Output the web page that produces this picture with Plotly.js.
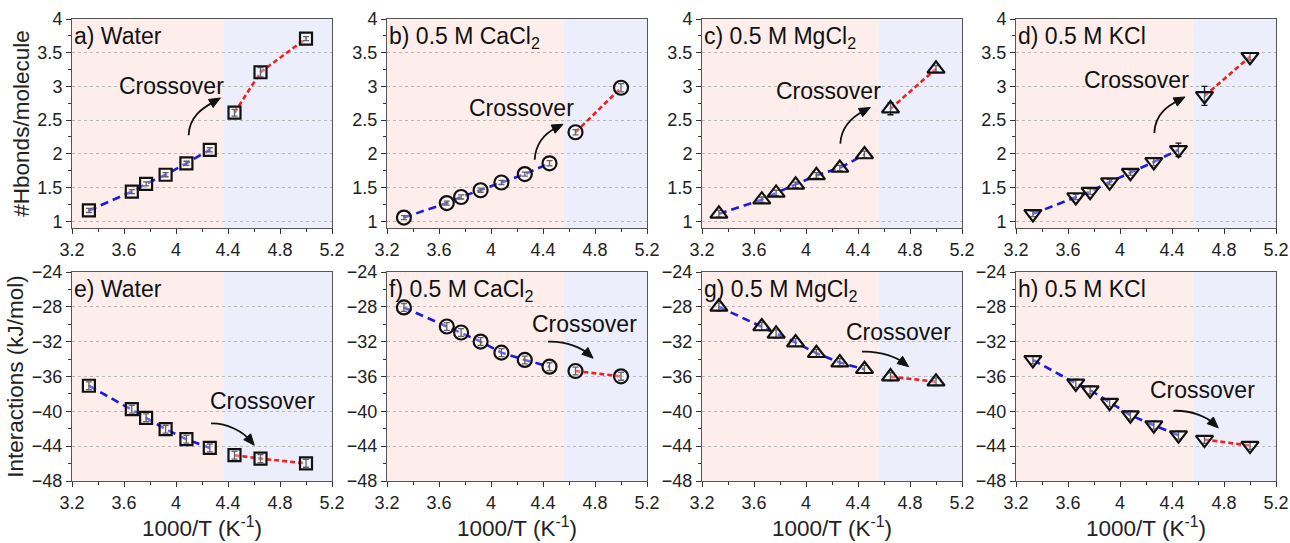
<!DOCTYPE html>
<html><head><meta charset="utf-8">
<script src="https://cdn.plot.ly/plotly-3.0.1.min.js"></script>
<style>html,body{margin:0;padding:0;background:#fff}#chart{width:1290px;height:543px}</style>
</head><body><div id="chart"></div>
<script>
// ---------- data ----------
const invT = [3.33, 3.66, 3.77, 3.92, 4.08, 4.26, 4.45, 4.65, 5.00];

const hbWater    = [1.16, 1.44, 1.555, 1.69, 1.86, 2.06, 2.61, 3.21, 3.71];
const hbWaterErr = [0.03, 0.03, 0.03, 0.03, 0.03, 0.03, 0.05, 0.07, 0.03];
const hbCaCl2    = [1.055, 1.27, 1.36, 1.46, 1.575, 1.70, 1.86, 2.32, 2.98];
const hbCaCl2Err = [0.03, 0.03, 0.03, 0.03, 0.03, 0.03, 0.04, 0.04, 0.06];
const hbMgCl2    = [1.11, 1.32, 1.42, 1.54, 1.68, 1.79, 1.99, 2.67, 3.26];
const hbMgCl2Err = [0.05, 0.04, 0.04, 0.04, 0.04, 0.04, 0.05, 0.09, 0.05];
const hbKCl      = [1.11, 1.36, 1.44, 1.58, 1.72, 1.88, 2.06, 2.86, 3.44];
const hbKClErr   = [0.04, 0.04, 0.04, 0.04, 0.04, 0.06, 0.10, 0.14, 0.05];

const intWater    = [-37.06, -39.75, -40.74, -42.05, -43.2, -44.2, -45.04, -45.43, -45.97];
const intWaterErr = [0.45, 0.45, 0.45, 0.45, 0.45, 0.45, 0.45, 0.45, 0.45];
const intCaCl2    = [-28.07, -30.26, -30.95, -31.99, -33.26, -34.1, -34.87, -35.37, -35.98];
const intCaCl2Err = [0.45, 0.45, 0.45, 0.45, 0.45, 0.45, 0.45, 0.45, 0.45];
const intMgCl2    = [-28.0, -30.26, -31.1, -32.1, -33.33, -34.4, -35.17, -36.02, -36.6];
const intMgCl2Err = [0.45, 0.45, 0.45, 0.45, 0.45, 0.45, 0.45, 0.45, 0.45];
const intKCl      = [-34.1, -36.79, -37.56, -39.0, -40.44, -41.59, -42.74, -43.24, -43.93];
const intKClErr   = [0.45, 0.45, 0.45, 0.45, 0.45, 0.45, 0.45, 0.45, 0.45];

const panelLabels = ['a) Water', 'b) 0.5 M CaCl<sub>2</sub>', 'c) 0.5 M MgCl<sub>2</sub>', 'd) 0.5 M KCl',
                     'e) Water', 'f) 0.5 M CaCl<sub>2</sub>', 'g) 0.5 M MgCl<sub>2</sub>', 'h) 0.5 M KCl'];
const crossoverText = 'Crossover';
const xTitle = '1000/T (K<sup>-1</sup>)';
const yTitleTop = '#Hbonds/molecule';
const yTitleBottom = 'Interactions (kJ/mol)';

// ---------- layout config ----------
const series = [
  {y: hbWater,  e: hbWaterErr,  sym: 'square',        split: 6, bound: 4.37},
  {y: hbCaCl2,  e: hbCaCl2Err,  sym: 'circle',        split: 7, bound: 4.56},
  {y: hbMgCl2,  e: hbMgCl2Err,  sym: 'triangle-up',   split: 7, bound: 4.56},
  {y: hbKCl,    e: hbKClErr,    sym: 'triangle-down', split: 7, bound: 4.56},
  {y: intWater, e: intWaterErr, sym: 'square',        split: 6, bound: 4.37},
  {y: intCaCl2, e: intCaCl2Err, sym: 'circle',        split: 7, bound: 4.56},
  {y: intMgCl2, e: intMgCl2Err, sym: 'triangle-up',   split: 7, bound: 4.56},
  {y: intKCl,   e: intKClErr,   sym: 'triangle-down', split: 7, bound: 4.56}
];
// crossover annotation geometry (text centre, curve start, control 1, control 2, arrow tip)
const arrows = [
  {t:[3.964, 3.003], s:[4.097, 2.275], c1:[4.102, 2.572], c2:[4.218, 2.691], e:[4.341, 2.829]},
  {t:[4.234, 2.687], s:[4.336, 1.913], c1:[4.344, 2.200], c2:[4.444, 2.334], e:[4.554, 2.438]},
  {t:[4.174, 2.934], s:[4.264, 2.151], c1:[4.272, 2.438], c2:[4.379, 2.572], e:[4.495, 2.687]},
  {t:[4.128, 3.093], s:[4.264, 2.309], c1:[4.269, 2.602], c2:[4.377, 2.721], e:[4.500, 2.844]},
  {t:[4.662, -38.79], s:[4.269, -41.39], c1:[4.402, -41.36], c2:[4.518, -42.39], e:[4.602, -43.89]},
  {t:[4.721, -29.95], s:[4.438, -31.99], c1:[4.590, -31.91], c2:[4.705, -32.83], e:[4.785, -33.90]},
  {t:[4.712, -30.84], s:[4.431, -33.14], c1:[4.587, -33.06], c2:[4.702, -33.87], e:[4.789, -34.87]},
  {t:[4.636, -37.56], s:[4.410, -39.94], c1:[4.562, -39.86], c2:[4.677, -40.78], e:[4.756, -41.90]}
];

const W = 1290, H = 543;
const colPx = [[72, 332], [387, 647], [702, 962], [1016, 1276]];
const rowPx = [[19, 228], [272, 481]];
const xRange = [3.2, 5.2];
const yRanges = [[0.9, 4], [-48, -24]];
const FONT = 'Liberation Sans, Arial, sans-serif';
const markerSize = {'square': 12, 'circle': 14, 'triangle-up': 15, 'triangle-down': 15};

const traces = [];
const shapes = [];
const annotations = [];
const layout = {
  width: W, height: H, margin: {l: 0, r: 0, t: 0, b: 0},
  paper_bgcolor: '#fff', plot_bgcolor: '#fff', showlegend: false,
  font: {family: FONT, color: '#222'}
};

series.forEach((s, i) => {
  const n = i + 1;
  const xa = 'x' + (n === 1 ? '' : n), ya = 'y' + (n === 1 ? '' : n);
  const xk = 'xaxis' + (n === 1 ? '' : n), yk = 'yaxis' + (n === 1 ? '' : n);
  const row = i < 4 ? 0 : 1, col = i % 4;
  const top = row === 0;
  const yr = yRanges[row];

  layout[xk] = {
    domain: [colPx[col][0] / W, colPx[col][1] / W],
    anchor: ya, range: xRange, tick0: 3.2, dtick: 0.4,
    ticks: 'outside', ticklen: 5, tickwidth: 1, tickcolor: '#333',
    minor: {ticks: 'outside', ticklen: 3, dtick: 0.2, tickcolor: '#333'},
    showgrid: false, zeroline: false, showline: true, mirror: true,
    linecolor: '#555', linewidth: 1,
    tickfont: {size: 18, family: FONT, color: '#222'}
  };
  if (!top) layout[xk].title = {text: xTitle, font: {size: 22.5, family: FONT, color: '#222'}, standoff: 6};

  layout[yk] = {
    domain: [1 - rowPx[row][1] / H, 1 - rowPx[row][0] / H],
    anchor: xa, range: yr,
    tick0: top ? 1 : -48, dtick: top ? 0.5 : 4,
    ticks: 'outside', ticklen: 5, tickwidth: 1, tickcolor: '#333',
    minor: {ticks: 'outside', ticklen: 3, dtick: top ? 0.25 : 2, tickcolor: '#333'},
    showgrid: true, gridcolor: '#b8b8b8', gridwidth: 1, griddash: 'dot',
    zeroline: false, showline: true, mirror: true, linecolor: '#555', linewidth: 1,
    tickfont: {size: 18, family: FONT, color: '#222'}
  };
  if (col === 0) layout[yk].title = {text: top ? yTitleTop : yTitleBottom,
    font: {size: 22.5, family: FONT, color: '#222'}, standoff: 1};

  // shaded regions
  shapes.push({type: 'rect', layer: 'below', xref: xa, yref: ya + ' domain',
    x0: xRange[0], x1: s.bound, y0: 0, y1: 1, fillcolor: 'rgb(253,238,235)', line: {width: 0}});
  shapes.push({type: 'rect', layer: 'below', xref: xa, yref: ya + ' domain',
    x0: s.bound, x1: xRange[1], y0: 0, y1: 1, fillcolor: 'rgb(237,238,252)', line: {width: 0}});

  // lines
  traces.push({x: invT.slice(0, s.split), y: s.y.slice(0, s.split), xaxis: xa, yaxis: ya,
    mode: 'lines', line: {color: '#1a1ae6', width: 2.6, dash: '8px,5px'}, hoverinfo: 'skip'});
  traces.push({x: invT.slice(s.split), y: s.y.slice(s.split), xaxis: xa, yaxis: ya,
    mode: 'lines', line: {color: '#ee2020', width: 2.6, dash: '5px,3px'}, hoverinfo: 'skip'});
  // markers with error bars
  traces.push({x: invT, y: s.y, xaxis: xa, yaxis: ya, mode: 'markers',
    marker: {symbol: s.sym, size: markerSize[s.sym], color: 'rgba(255,255,255,0.35)',
             line: {color: '#111', width: 2.2}},
    error_y: {type: 'data', array: s.e, visible: true, color: '#111', thickness: 1.3, width: 3}});

  // panel label
  annotations.push({xref: xa + ' domain', yref: ya + ' domain', x: 0.0, y: 0.99,
    xanchor: 'left', yanchor: 'top', showarrow: false, text: panelLabels[i],
    font: {size: 23, family: FONT, color: '#111'}});

  // crossover text + curved arrow
  const a = arrows[i];
  annotations.push({xref: xa, yref: ya, x: a.t[0], y: a.t[1], showarrow: false,
    text: crossoverText, xanchor: 'center', yanchor: 'middle',
    font: {size: 23, family: FONT, color: '#111'}});

  // pixel scale of this subplot (for a properly shaped arrowhead)
  const pxX = (colPx[col][1] - colPx[col][0]) / (xRange[1] - xRange[0]);
  const pxY = (rowPx[row][1] - rowPx[row][0]) / (yr[1] - yr[0]);
  let dx = (a.e[0] - a.c2[0]) * pxX, dy = -(a.e[1] - a.c2[1]) * pxY;
  const len = Math.hypot(dx, dy); dx /= len; dy /= len;
  const L = 11, hw = 4.6;
  const bx = -L * dx, by = -L * dy;          // base centre offset (px) from tip
  const toData = (ox, oy) => [a.e[0] + ox / pxX, a.e[1] - oy / pxY];
  const p1 = toData(bx - hw * dy, by + hw * dx);
  const p2 = toData(bx + hw * dy, by - hw * dx);
  const base = toData(bx * 0.6, by * 0.6);

  shapes.push({type: 'path', xref: xa, yref: ya, layer: 'above',
    path: `M${a.s[0]},${a.s[1]} C${a.c1[0]},${a.c1[1]} ${a.c2[0]},${a.c2[1]} ${base[0]},${base[1]}`,
    line: {color: '#111', width: 1.8}});
  shapes.push({type: 'path', xref: xa, yref: ya, layer: 'above',
    path: `M${a.e[0]},${a.e[1]} L${p1[0]},${p1[1]} L${p2[0]},${p2[1]} Z`,
    fillcolor: '#111', line: {color: '#111', width: 1}});
});

layout.shapes = shapes;
layout.annotations = annotations;
Plotly.newPlot('chart', traces, layout, {staticPlot: true, displayModeBar: false});
</script>
</body></html>
